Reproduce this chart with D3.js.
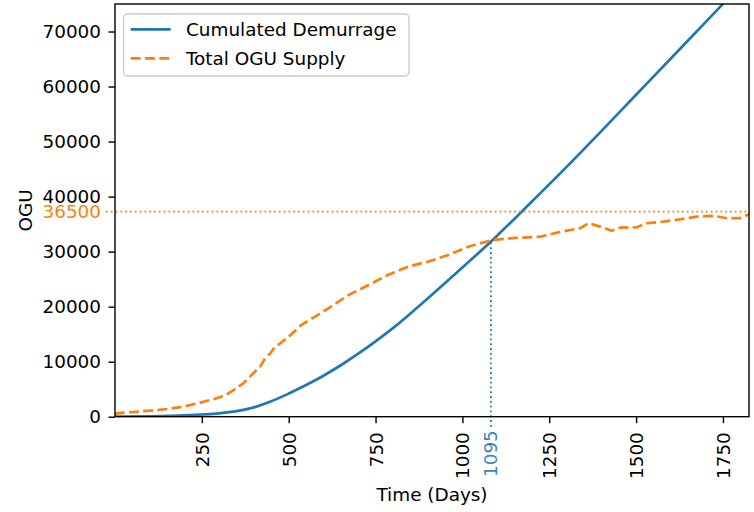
<!DOCTYPE html>
<html>
<head>
<meta charset="utf-8">
<script src="https://cdn.jsdelivr.net/npm/d3@7"></script>
<style>
  body { margin: 0; background: #fff; }
  text { font-family: "DejaVu Sans", sans-serif; }
</style>
</head>
<body>
<div id="chart"></div>
<script>
// cumulated demurrage (blue)
var demDays = [0, 100, 200, 250, 300, 350, 400, 450, 500, 550, 600, 650, 700, 750, 800, 900, 1000, 1100, 1200, 1300, 1400, 1500, 1600, 1700, 1825];
var demVals = [0, 60, 230, 400, 620, 1000, 1700, 2800, 4200, 5750, 7450, 9350, 11450, 13700, 16100, 21500, 27100, 32900, 39100, 45400, 51900, 58500, 65100, 71700, 80000];

// total OGU supply (orange)
var supDays = [0, 5, 50, 101, 150, 197, 245, 293, 320, 341, 370, 398, 418, 432, 447, 461, 475, 499, 537, 576, 614, 672, 729, 787, 845, 902, 960, 1017, 1085, 1152, 1224, 1282, 1339, 1363, 1397, 1430, 1454, 1502, 1531, 1579, 1627, 1675, 1723, 1762, 1800, 1825];
var supVals = [400, 620, 850, 1090, 1400, 1820, 2550, 3340, 4000, 4850, 6070, 7900, 9100, 10600, 11500, 12700, 13300, 14500, 16700, 18200, 19700, 22100, 23900, 25800, 27300, 28200, 29400, 30900, 32100, 32500, 32700, 33600, 34250, 35150, 34550, 33800, 34370, 34430, 35150, 35460, 35880, 36360, 36500, 36070, 36070, 36800];

var xTicks = [250, 500, 750, 1000, 1250, 1500, 1750];
var yTicks = [0, 10000, 20000, 30000, 40000, 50000, 60000, 70000];

// annotation marks: where they sit and what they say
var crossDay = 1082, crossVal = 32000, crossLabel = "1095";
var supplyRefVal = 37270, supplyRefLabel = "36500";

var seriesNames = ["Cumulated Demurrage", "Total OGU Supply"];

function draw() {
  var blue = "#1f77b4", orange = "#ff7f0e";
  var W = 754, H = 512;
  var mL = 115, mR = 749, mT = 4, mB = 416.7;
  var fs = 18.4;
  var lw = 2.7, dash = "10,4.3", dot = "1.8,3";

  var svg = d3.select("#chart").append("svg")
    .attr("width", W).attr("height", H);

  var x = d3.scaleLinear().domain([0, 1825]).range([mL, mR]);
  var y = d3.scaleLinear().domain([0, 75000]).range([mB, mT]);

  svg.append("defs").append("clipPath").attr("id", "clip")
    .append("rect")
      .attr("x", mL).attr("y", mT)
      .attr("width", mR - mL).attr("height", mB - mT);

  var plot = svg.append("g").attr("clip-path", "url(#clip)");

  var dem = demDays.map(function(d, i) { return [d, demVals[i]]; });
  var sup = supDays.map(function(d, i) { return [d, supVals[i]]; });

  plot.append("path")
    .datum(dem)
    .attr("d", d3.line()
      .x(function(d) { return x(d[0]); })
      .y(function(d) { return y(d[1]); })
      .curve(d3.curveMonotoneX))
    .attr("fill", "none")
    .attr("stroke", blue)
    .attr("stroke-width", lw);

  plot.append("path")
    .datum(sup)
    .attr("d", d3.line()
      .x(function(d) { return x(d[0]); })
      .y(function(d) { return y(d[1]); }))
    .attr("fill", "none")
    .attr("stroke", orange)
    .attr("stroke-width", lw)
    .attr("stroke-dasharray", dash);

  // dotted reference lines (they run past the spines like ticks)
  svg.append("line")
    .attr("x1", mL - 9).attr("x2", mR)
    .attr("y1", y(supplyRefVal)).attr("y2", y(supplyRefVal))
    .attr("stroke", orange).attr("stroke-width", 1.8)
    .attr("stroke-dasharray", dot);

  svg.append("line")
    .attr("x1", x(crossDay)).attr("x2", x(crossDay))
    .attr("y1", mB + 10).attr("y2", y(crossVal))
    .attr("stroke", blue).attr("stroke-width", 1.8)
    .attr("stroke-dasharray", dot);

  // axes
  var xAxis = svg.append("g")
    .attr("transform", "translate(0," + mB + ")")
    .call(d3.axisBottom(x).tickValues(xTicks).tickSize(6.5).tickPadding(0).tickFormat(d3.format("d")));
  xAxis.select(".domain").remove();
  xAxis.selectAll(".tick line").attr("stroke", "#000").attr("stroke-width", 1.4);
  xAxis.selectAll(".tick text")
    .attr("font-size", fs).attr("fill", "#000")
    .attr("text-anchor", "end")
    .attr("transform", "rotate(-90)")
    .attr("x", -15.5).attr("y", 0).attr("dy", "0.35em");

  var yAxis = svg.append("g")
    .attr("transform", "translate(" + mL + ",0)")
    .call(d3.axisLeft(y).tickValues(yTicks).tickSize(6.5).tickPadding(7.5).tickFormat(d3.format("d")));
  yAxis.select(".domain").remove();
  yAxis.selectAll(".tick line").attr("stroke", "#000").attr("stroke-width", 1.4);
  yAxis.selectAll(".tick text").attr("font-size", fs).attr("fill", "#000");

  // extra coloured tick labels
  svg.append("text")
    .attr("transform", "translate(" + x(crossDay) + "," + (mB + 13.5) + ") rotate(-90)")
    .attr("text-anchor", "end").attr("dy", "0.35em")
    .attr("font-size", fs).attr("fill", "#3a87c2")
    .text(crossLabel);

  svg.append("text")
    .attr("x", mL - 14).attr("y", y(supplyRefVal)).attr("dy", "0.35em")
    .attr("text-anchor", "end")
    .attr("font-size", fs).attr("fill", orange)
    .text(supplyRefLabel);

  // spines
  svg.append("rect")
    .attr("x", mL).attr("y", mT)
    .attr("width", mR - mL).attr("height", mB - mT)
    .attr("fill", "none").attr("stroke", "#000").attr("stroke-width", 1.4);

  // axis labels
  svg.append("text")
    .attr("x", (mL + mR) / 2).attr("y", 501)
    .attr("text-anchor", "middle").attr("font-size", fs)
    .text("Time (Days)");

  svg.append("text")
    .attr("transform", "translate(31.5," + ((mT + mB) / 2) + ") rotate(-90)")
    .attr("text-anchor", "middle").attr("font-size", fs)
    .text("OGU");

  // legend
  var lg = svg.append("g");
  lg.append("rect")
    .attr("x", 123.5).attr("y", 14).attr("width", 285.5).attr("height", 62)
    .attr("rx", 4).attr("fill", "#fff").attr("fill-opacity", 0.8)
    .attr("stroke", "#cccccc").attr("stroke-width", 1.4);

  var legendColors = [blue, orange];
  var legendDash = [null, dash];
  seriesNames.forEach(function(name, i) {
    var ly = 29.3 + i * 29;
    lg.append("line")
      .attr("x1", 130.7).attr("x2", 170.7)
      .attr("y1", ly).attr("y2", ly)
      .attr("stroke", legendColors[i]).attr("stroke-width", lw)
      .attr("stroke-dasharray", legendDash[i]);
    lg.append("text")
      .attr("x", 186).attr("y", ly).attr("dy", "0.35em")
      .attr("font-size", fs).attr("fill", "#000")
      .text(name);
  });
}

draw();
</script>
</body>
</html>
